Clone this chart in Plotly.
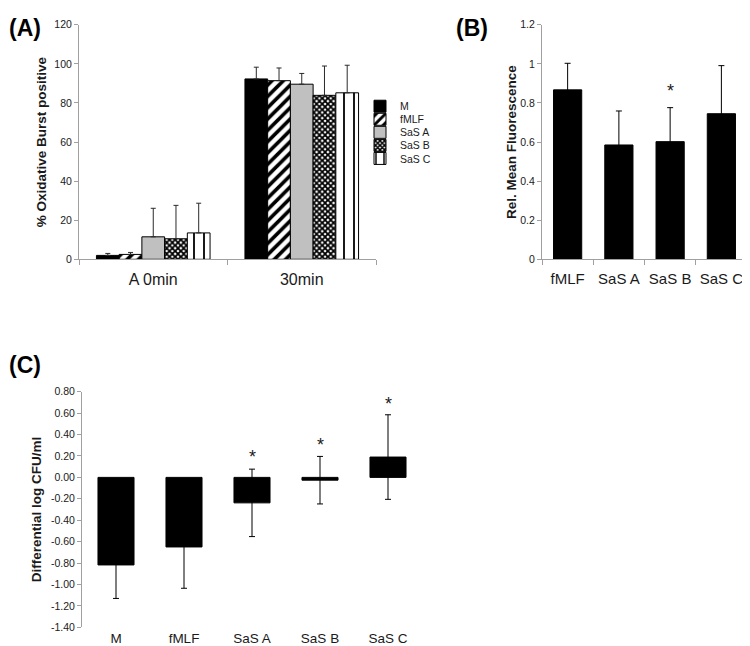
import plotly.graph_objects as go

# ---------------- data ----------------
# Panel A
a_times = ["A 0min", "30min"]
a_groups = ["M", "fMLF", "SaS A", "SaS B", "SaS C"]
a_M = [2.0, 92.3]
a_fMLF = [2.5, 91.4]
a_SaSA = [11.5, 89.6]
a_SaSB = [10.5, 83.9]
a_SaSC = [13.5, 85.2]
a_err_M = [1.0, 6.0]
a_err_fMLF = [1.0, 6.5]
a_err_SaSA = [14.6, 5.5]
a_err_SaSB = [17.1, 15.0]
a_err_SaSC = [15.2, 14.1]
a_yticks = [0, 20, 40, 60, 80, 100, 120]

# Panel B
b_cats = ["fMLF", "SaS A", "SaS B", "SaS C"]
b_vals = [0.867, 0.585, 0.602, 0.745]
b_err = [0.136, 0.174, 0.174, 0.246]
b_sig_cats = ["SaS B"]
b_sig_y = [0.86]
b_yticks = [0, 0.2, 0.4, 0.6, 0.8, 1.0, 1.2]
b_yticklabels = ["0", "0.2", "0.4", "0.6", "0.8", "1", "1.2"]

# Panel C
c_cats = ["M", "fMLF", "SaS A", "SaS B", "SaS C"]
c_vals = [-0.818, -0.650, -0.238, -0.026, 0.19]
c_err = [0.313, 0.386, 0.315, 0.222, 0.395]
c_sig_cats = ["SaS A", "SaS B", "SaS C"]
c_sig_y = [0.23, 0.34, 0.72]
c_yticks = [0.8, 0.6, 0.4, 0.2, 0.0, -0.2, -0.4, -0.6, -0.8, -1.0, -1.2, -1.4]
c_yticklabels = ["0.80", "0.60", "0.40", "0.20", "0.00", "-0.20", "-0.40",
                 "-0.60", "-0.80", "-1.00", "-1.20", "-1.40"]

# ---------------- layout helpers ----------------
VIEW_W, VIEW_H = 750, 646
OFF = 8  # default page body margin
W, H = VIEW_W - OFF, VIEW_H - OFF
FONT = "Liberation Sans, Arial, Helvetica, sans-serif"
AXC = "#a0a0a0"
TXT = "#1a1a1a"
ERRC = "#2a2a2a"


def px_x(p):
    return (p - OFF) / W


def px_y(p):
    return 1 - (p - OFF) / H


a_xdom = [px_x(79), px_x(376)]
a_ydom = [px_y(258), px_y(19)]
b_xdom = [px_x(542), min(1.0, px_x(747))]
c_xdom = [px_x(82), px_x(422)]
c_ydom = [px_y(633), px_y(393)]
c_yrange = [min(c_yticks), max(c_yticks)]

fig = go.Figure()

# ---------------- panel A ----------------
a_series = [a_M, a_fMLF, a_SaSA, a_SaSB, a_SaSC]
a_errs = [a_err_M, a_err_fMLF, a_err_SaSA, a_err_SaSB, a_err_SaSC]
a_styles = [
    dict(color="black"),
    dict(color="white", pattern=dict(shape="/", fgcolor="black", bgcolor="white",
                                     size=8, solidity=0.45, fillmode="replace")),
    dict(color="#c0c0c0"),
    dict(color="white", pattern=dict(shape="x", fgcolor="black", bgcolor="white",
                                     size=4, solidity=0.7, fillmode="replace")),
    dict(color="white", pattern=dict(shape="|", fgcolor="black", bgcolor="white",
                                     size=10, solidity=0.18, fillmode="replace")),
]
leg_top_px = 102
leg_step_px = 13.3
for i, (name, vals, errs, st) in enumerate(zip(a_groups, a_series, a_errs, a_styles)):
    marker = dict(st)
    marker["line"] = dict(color="black", width=1)
    lname = "legend" if i == 0 else f"legend{i + 1}"
    fig.add_trace(go.Bar(
        x=a_times, y=vals, name=name, marker=marker,
        error_y=dict(type="data", symmetric=False, array=errs,
                     arrayminus=[0] * len(errs), color=ERRC, thickness=1, width=2.5),
        xaxis="x", yaxis="y", legend=lname, showlegend=True,
    ))
    fig.update_layout(**{lname: dict(
        x=px_x(360), y=px_y(leg_top_px + i * leg_step_px), xanchor="left", yanchor="middle",
        bgcolor="rgba(0,0,0,0)", font=dict(family=FONT, size=10.5, color=TXT),
        itemwidth=30,
    )})

# ---------------- panel B ----------------
fig.add_trace(go.Bar(
    x=b_cats, y=b_vals, width=0.55, marker=dict(color="black", line=dict(color="black", width=1)),
    error_y=dict(type="data", array=b_err, color="black", thickness=1, width=3),
    xaxis="x2", yaxis="y2", showlegend=False,
))

# ---------------- panel C ----------------
fig.add_trace(go.Bar(
    x=c_cats, y=c_vals, width=0.53, marker=dict(color="black", line=dict(color="black", width=1)),
    error_y=dict(type="data", array=c_err, color="black", thickness=1, width=3),
    xaxis="x3", yaxis="y3", showlegend=False,
))

# zero-line axis position for panel C
zero_frac = c_ydom[0] + (0 - c_yrange[0]) / (c_yrange[1] - c_yrange[0]) * (c_ydom[1] - c_ydom[0])

axis_common = dict(showgrid=False, zeroline=False, showline=True, linecolor=AXC, linewidth=1,
                   ticks="outside", tickcolor=AXC, tickwidth=1)
title_font = dict(family=FONT, size=13.5, color=TXT, weight="bold")

fig.update_layout(
    width=W, height=H, margin=dict(l=0, r=0, t=0, b=0),
    paper_bgcolor="white", plot_bgcolor="white",
    font=dict(family=FONT, color=TXT),
    barmode="group", bargap=0.235, bargroupgap=0,
    xaxis=dict(domain=a_xdom, anchor="y", type="category", tickson="boundaries",
               tickangle=0, tickfont=dict(size=16), ticklen=5, ticklabelstandoff=6,
               **axis_common),
    yaxis=dict(domain=a_ydom, anchor="x", range=[0, 120], tickvals=a_yticks,
               tickfont=dict(size=10.5), ticklen=4,
               title=dict(text="% Oxidative Burst positive", font=title_font, standoff=4),
               **axis_common),
    xaxis2=dict(domain=b_xdom, anchor="y2", type="category", tickson="boundaries",
                range=[-0.5, len(b_cats) - 0.5], tickangle=0, ticklabelstandoff=6,
                tickfont=dict(size=15), ticklen=5, **axis_common),
    yaxis2=dict(domain=a_ydom, anchor="x2", range=[0, 1.2], tickvals=b_yticks,
                ticktext=b_yticklabels, tickfont=dict(size=10.5), ticklen=4,
                title=dict(text="Rel. Mean Fluorescence", font=title_font, standoff=0),
                **axis_common),
    xaxis3=dict(domain=c_xdom, anchor="y3", type="category", range=[-0.5, len(c_cats) - 0.5],
                showline=False, ticks="", showgrid=False, zeroline=False, tickangle=0,
                ticklabelstandoff=1, tickfont=dict(size=13.5)),
    yaxis3=dict(domain=c_ydom, anchor="x3", range=c_yrange, tickvals=c_yticks,
                ticktext=c_yticklabels, tickfont=dict(size=10.5), ticklen=4,
                title=dict(text="Differential log CFU/ml", font=title_font, standoff=6),
                **axis_common),
    xaxis4=dict(domain=c_xdom, anchor="free", position=zero_frac, overlaying="x3",
                range=[-0.5, len(c_cats) - 0.5],
                tickvals=[i - 0.5 for i in range(len(c_cats) + 1)],
                showticklabels=False, ticklen=5, **axis_common),
)

# panel labels (kept inside the figure area)
panel_labels = [("(A)", 0.0, 1.0, "left", "top"),
                ("(B)", px_x(472), 1.0, "center", "top"),
                ("(C)", 0.0, px_y(366), "left", "middle")]
for txt, xp, yp, xa, ya in panel_labels:
    fig.add_annotation(text=f"<b>{txt}</b>", x=xp, y=yp, xref="paper", yref="paper",
                       showarrow=False, xanchor=xa, yanchor=ya, borderpad=0,
                       font=dict(family=FONT, size=23, color="black"))

# significance asterisks
for c, yv in zip(b_sig_cats, b_sig_y):
    fig.add_annotation(text="*", x=c, y=yv, xref="x2", yref="y2", showarrow=False,
                       yanchor="middle", yshift=0, font=dict(family=FONT, size=18, color=TXT))
for c, yv in zip(c_sig_cats, c_sig_y):
    fig.add_annotation(text="*", x=c, y=yv, xref="x3", yref="y3", showarrow=False,
                       yanchor="middle", yshift=-4, font=dict(family=FONT, size=18, color=TXT))

fig.write_html("out.html")
